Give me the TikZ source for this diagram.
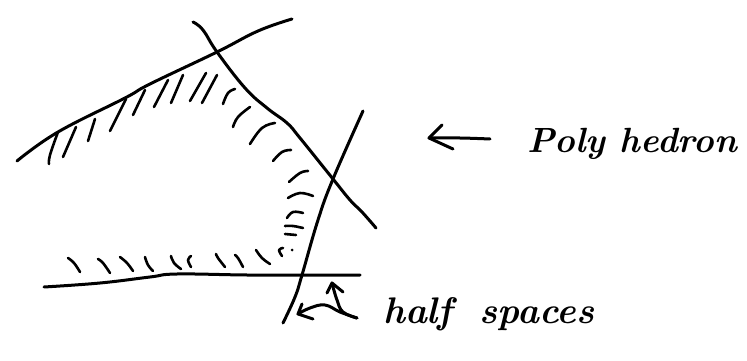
\documentclass[tikz,border=0pt]{standalone}
\tikzset{
  ink/.style={line width=3pt,line cap=round,line join=round,black},
  hatch/.style={line width=2.6pt,line cap=round,line join=round,black},
  hand/.style={inner sep=0pt,anchor=base west,font=\fontsize{35}{40}\selectfont\bfseries\itshape},
  handwide/.style={inner sep=0pt,anchor=base west,font=\fontsize{37}{40}\selectfont\bfseries\itshape}
}
\newcommand{\stroke}[2]{\draw[#1] plot[smooth,tension=.7] coordinates {#2};}
\begin{document}
\begin{tikzpicture}[x=1pt,y=-1pt]
\useasboundingbox (0,0) rectangle (747,361);
% half-plane boundaries
\stroke{ink}{(17,161) (58,132) (125,98) (150,84) (217,52) (258,31) (292,19)}
\stroke{ink}{(193,22) (203,30) (217,52) (245,88) (267,108) (287,123) (300,138) (333,179) (350,200) (362,212) (376,228)}
\stroke{ink}{(363,111) (333,179) (318,220) (302,275) (295,297) (283,323)}
\stroke{ink}{(44,287) (100,283) (150,277) (177,274) (247,275) (302,275) (360,275)}
% hatching
\stroke{hatch}{(58,132) (50,155) (49,164)}
\stroke{hatch}{(76,127) (63,157)}
\stroke{hatch}{(95,119) (88,141)}
\stroke{hatch}{(126,99) (110,131)}
\stroke{hatch}{(145,90) (133,115)}
\stroke{hatch}{(168,80) (154,107)}
\stroke{hatch}{(183,75) (171,103)}
\stroke{hatch}{(206,73) (190,101)}
\stroke{hatch}{(217,75) (202,103)}
\stroke{hatch}{(235,89) (228,93) (223,104)}
\stroke{hatch}{(250,107) (238,117) (233,127)}
\stroke{hatch}{(275,123) (262,128) (250,144)}
\stroke{hatch}{(291,150) (282,152) (273,161)}
\stroke{hatch}{(308,171) (300,173) (289,182)}
\stroke{hatch}{(313,196) (300,193) (288,198)}
\stroke{hatch}{(303,213) (293,212) (287,218)}
\stroke{hatch}{(303,228) (293,226) (285,226)}
\stroke{hatch}{(296,235) (285,234)}
\fill (292,250) circle (1.5pt);
\stroke{hatch}{(283,248) (279,250) (282,256)}
\stroke{hatch}{(256,250) (262,258) (270,264)}
\stroke{hatch}{(235,255) (238,258) (243,267)}
\stroke{hatch}{(216,254) (218,258) (225,267)}
\stroke{hatch}{(191,256) (188,260) (191,267)}
\stroke{hatch}{(171,256) (174,263) (181,269)}
\stroke{hatch}{(145,257) (148,265) (153,271)}
\stroke{hatch}{(120,257) (127,263) (133,271)}
\stroke{hatch}{(98,259) (103,263) (110,273)}
\stroke{hatch}{(68,258) (74,263) (80,272)}
% arrows at half spaces
\coordinate (upTip) at (332,283);
\coordinate (leftTip) at (298,314);
\coordinate (fork) at (357,318);
\stroke{ink}{(fork) (343,312) (337,300) (upTip)}
\draw[ink] (327,293) -- (upTip) -- (343,292);
\stroke{ink}{(fork) (340,312) (325,305) (310,308) (leftTip)}
\draw[ink] (302,304) -- (leftTip) -- (313,319);
% arrow at polyhedron
\coordinate (polyTail) at (490,139);
\coordinate (polyTip) at (429,138);
\stroke{ink}{(polyTail) (460,138) (polyTip)}
\draw[ink] (442,125) -- (polyTip) -- (453,149);
% labels
\node[hand] (poly) at (527,152) {Poly hedron};
\node[handwide] (half) at (383,323) {half\hspace{27pt}spaces};
\end{tikzpicture}
\end{document}
